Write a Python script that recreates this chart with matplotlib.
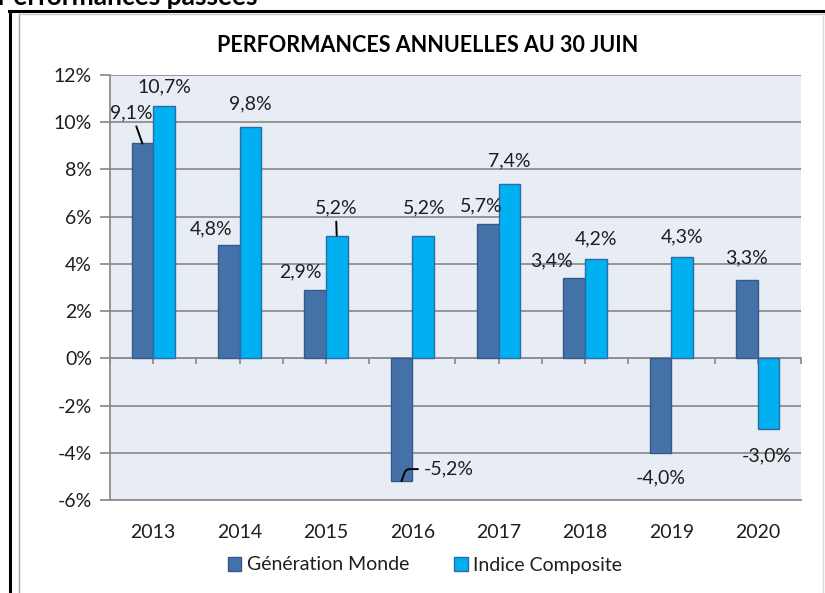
import matplotlib
matplotlib.use("Agg")
import matplotlib.pyplot as plt
from matplotlib.lines import Line2D
from matplotlib.ticker import FixedLocator, FuncFormatter

plt.rcParams["font.family"] = ["Lato", "DejaVu Sans"]

years = ["2013", "2014", "2015", "2016", "2017", "2018", "2019", "2020"]
generation_monde = [9.1, 4.8, 2.9, -5.2, 5.7, 3.4, -4.0, 3.3]
indice_composite = [10.7, 9.8, 5.2, 5.2, 7.4, 4.2, 4.3, -3.0]
series_names = ["Génération Monde", "Indice Composite"]

# label offsets from the bar end, in pixels (dx, dy), as placed in the source
offsets_monde = [(-11, 31), (-18, 16), (-15, 18), (47, 12), (-7, 18),
                 (-23, 17), (0, -25), (-1, 23)]
offsets_indice = [(0, 19), (0, 23), (-1, 28), (1, 28), (0, 23),
                  (0, 20), (0, 20), (-2, -27)]
leader_monde = {0, 3}
leader_indice = {2}

DARK = "#4472A8"
DARK_EDGE = "#34598A"
LIGHT = "#00B0F0"
LIGHT_EDGE = "#2A6BA8"
GRID = "#8E8E8E"
TEXT = "#1E1E1E"
FS = 14

W, H = 825, 593
fig = plt.figure(figsize=(W / 100, H / 100), dpi=100)


def fx(x):
    return x / W


def fy(y):
    return 1 - y / H


# page frame: black outer border and grey chart border
fig.add_artist(Line2D([fx(10), fx(10)], [fy(11), fy(600)], color="black", lw=2.2))
fig.add_artist(Line2D([fx(9), fx(830)], [fy(11), fy(11)], color="black", lw=2.2))
fig.add_artist(Line2D([fx(19), fx(19)], [fy(14), fy(600)], color="#A6A6A6", lw=1.0))
fig.add_artist(Line2D([fx(19), fx(830)], [fy(14), fy(14)], color="#C8C8C8", lw=1.0))
fig.add_artist(Line2D([fx(823), fx(823)], [fy(14), fy(600)], color="#D9D9D9", lw=1.0))

# page heading, cropped at the top edge as in the source
fig.text(fx(-3), fy(5), "Performances passées", fontsize=19, fontweight="bold",
         ha="left", va="baseline", color="black")
fig.text(fx(428), fy(45), "PERFORMANCES ANNUELLES AU 30 JUIN", fontsize=15.5,
         fontweight="bold", ha="center", va="center", color="black")

ax = fig.add_axes([fx(110), fy(500), fx(801) - fx(110), fy(75) - fy(500)])
ax.set_facecolor("#E8ECF4")

x = list(range(len(years)))
w = 0.25
bars_m = ax.bar([i - w / 2 for i in x], generation_monde, width=w, color=DARK,
                edgecolor=DARK_EDGE, linewidth=1.0, label=series_names[0], zorder=3)
bars_i = ax.bar([i + w / 2 for i in x], indice_composite, width=w, color=LIGHT,
                edgecolor=LIGHT_EDGE, linewidth=1.0, label=series_names[1], zorder=3)

ax.set_xlim(-0.5, len(years) - 0.5)
ax.set_ylim(-6, 12)
ax.yaxis.set_major_locator(FixedLocator(range(-6, 13, 2)))
ax.yaxis.set_major_formatter(FuncFormatter(lambda v, _: f"{v:.0f}%"))
ax.grid(axis="y", color=GRID, linewidth=1.3, zorder=1)
ax.set_axisbelow(True)
ax.tick_params(axis="y", length=7, width=1.3, color=GRID, labelsize=FS,
               labelcolor=TEXT, pad=6)
ax.set_xticks(x, years)
ax.tick_params(axis="x", length=0, labelsize=FS, labelcolor=TEXT, pad=17)
for side in ("top", "right"):
    ax.spines[side].set_visible(False)
for side in ("left", "bottom"):
    ax.spines[side].set_color(GRID)
    ax.spines[side].set_linewidth(1.3)

# category axis crossing at zero, with ticks every half category
zero_axis = ax.secondary_xaxis(6 / 18)
zero_axis.set_xticks([i / 2 - 0.5 for i in range(2 * len(years) + 1)])
zero_axis.set_xticklabels([])
zero_axis.tick_params(length=4, width=1.3, color=GRID, direction="out")
zero_axis.spines["bottom"].set_color(GRID)
zero_axis.spines["bottom"].set_linewidth(1.3)


def fmt(v):
    return f"{v:.1f}%".replace(".", ",")


def label_bars(bars, values, offsets, leaders):
    for k, (bar, v) in enumerate(zip(bars, values)):
        cx = bar.get_x() + bar.get_width() / 2
        dx, dy = offsets[k]
        arrow = None
        if k in leaders:
            arrow = dict(arrowstyle="-", color="black", lw=1.4, shrinkA=2, shrinkB=0)
            if v < 0:
                arrow["connectionstyle"] = "angle,angleA=0,angleB=70,rad=4"
        ax.annotate(fmt(v), xy=(cx, v), xytext=(dx, dy), textcoords="offset pixels",
                    ha="center", va="center", fontsize=FS, color=TEXT,
                    arrowprops=arrow, zorder=5)


label_bars(bars_m, generation_monde, offsets_monde, leader_monde)
label_bars(bars_i, indice_composite, offsets_indice, leader_indice)

fig.legend(handles=[bars_m, bars_i], loc="center", bbox_to_anchor=(fx(425), fy(565)),
           ncol=2, frameon=False, fontsize=FS, handlelength=0.7, handleheight=0.7,
           handletextpad=0.3, columnspacing=2.3, labelcolor=TEXT)

fig.savefig("out.png", dpi=100)
